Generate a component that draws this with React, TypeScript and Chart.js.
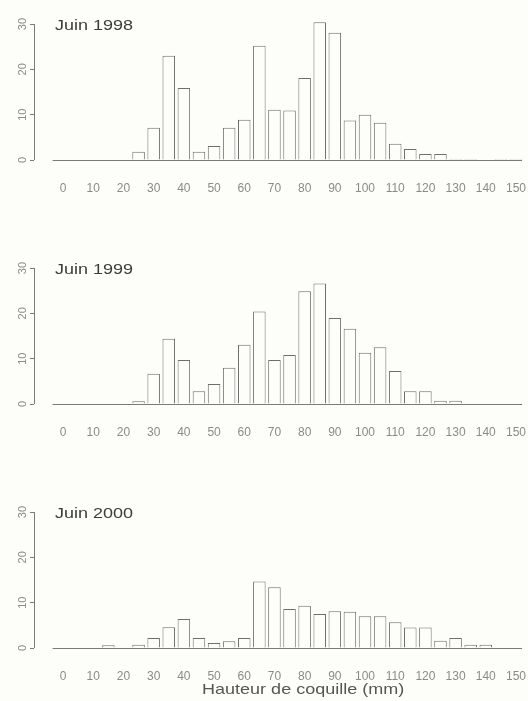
import React, { useEffect, useRef } from "react";
import { Chart, registerables } from "chart.js";

Chart.register(...registerables);

// ---- Data ----
const SIZE_CLASSES = [0, 5, 10, 15, 20, 25, 30, 35, 40, 45, 50, 55, 60, 65, 70, 75, 80, 85, 90, 95, 100, 105, 110, 115, 120, 125, 130, 135, 140, 145, 150];
const X_TICKS = [0, 10, 20, 30, 40, 50, 60, 70, 80, 90, 100, 110, 120, 130, 140, 150];
const Y_TICKS = [0, 10, 20, 30];

const JUIN_1998 = [0, 0, 0, 0, 0, 1.8, 7.1, 23.0, 15.9, 1.8, 3.1, 7.1, 8.9, 25.2, 11.1, 10.9, 18.1, 30.4, 28.1, 8.7, 10.0, 8.2, 3.6, 2.4, 1.3, 1.3, 0.2, 0.2, 0, 0.2, 0.2];
const JUIN_1999 = [0, 0, 0, 0, 0, 0.6, 6.7, 14.4, 9.7, 2.8, 4.4, 8.0, 13.1, 20.4, 9.7, 10.8, 24.9, 26.6, 19.0, 16.6, 11.3, 12.5, 7.3, 2.8, 2.8, 0.7, 0.7, 0, 0, 0, 0];
const JUIN_2000 = [0, 0, 0, 0.6, 0, 0.7, 2.2, 4.6, 6.4, 2.2, 1.1, 1.5, 2.2, 14.7, 13.4, 8.6, 9.3, 7.5, 8.1, 8.0, 7.0, 7.0, 5.7, 4.5, 4.5, 1.6, 2.2, 0.7, 0.7, 0, 0];

const PANEL_TITLES = ["Juin 1998", "Juin 1999", "Juin 2000"];
const X_TITLE = "Hauteur de coquille (mm)";

const SERIES = [JUIN_1998, JUIN_1999, JUIN_2000];

// ---- Styling ----
const BG = "#fdfdfa";
const FONT = "'Liberation Sans', Arial, sans-serif";
const TEXT_DARK = "#3c3c3c";
const TEXT_LIGHT = "#8a8a8a";
const LINE = "#7a7a7a";

const CANVAS_W = 528;
const CANVAS_H = 213;
const PANEL_TOPS = [0, 244, 488];

const decorPlugin = {
  id: "panelDecor",
  afterDatasetsDraw(chart: any) {
    const { ctx } = chart;
    const xs = chart.scales.x;
    const ys = chart.scales.y;
    const y0 = Math.round(ys.getPixelForValue(0)) + 0.5;
    ctx.save();
    ctx.strokeStyle = LINE;
    ctx.lineWidth = 1;
    // baseline under the bars
    ctx.beginPath();
    ctx.moveTo(xs.getPixelForValue(-3.5), y0);
    ctx.lineTo(xs.getPixelForValue(152), y0);
    ctx.stroke();
    // y axis line, from first to last tick (R style)
    const ax = Math.round(chart.chartArea.left) + 0.5;
    ctx.beginPath();
    ctx.moveTo(ax, ys.getPixelForValue(Y_TICKS[0]));
    ctx.lineTo(ax, ys.getPixelForValue(Y_TICKS[Y_TICKS.length - 1]));
    ctx.stroke();
    ctx.restore();
  },
  afterDraw(chart: any, _args: any, opts: any) {
    const { ctx } = chart;
    const xs = chart.scales.x;
    const ys = chart.scales.y;
    const drawStretched = (text: string, x: number, y: number, align: CanvasTextAlign, color: string) => {
      ctx.save();
      ctx.translate(x, y);
      ctx.scale(1.2, 1);
      ctx.font = `15px ${FONT}`;
      ctx.fillStyle = color;
      ctx.textAlign = align;
      ctx.textBaseline = "middle";
      ctx.fillText(text, 0, 0);
      ctx.restore();
    };
    if (opts.title) {
      drawStretched(opts.title, xs.getPixelForValue(-2.7), ys.getPixelForValue(30) + 2, "left", TEXT_DARK);
    }
    if (opts.xTitle) {
      drawStretched(opts.xTitle, xs.getPixelForValue(79.5), chart.chartArea.bottom + 42, "center", "#555555");
    }
  },
};

function Panel({ values, title, xTitle, top }: { values: number[]; title: string; xTitle?: string; top: number }) {
  const ref = useRef<HTMLCanvasElement>(null);
  useEffect(() => {
    if (!ref.current) return;
    const chart = new Chart(ref.current, {
      type: "bar",
      data: {
        datasets: [
          {
            data: SIZE_CLASSES.map((c, i) => ({ x: c, y: values[i] })),
            backgroundColor: BG,
            borderColor: "#6e6e6e",
            borderWidth: 1,
            barPercentage: 0.83,
            categoryPercentage: 1,
          } as any,
        ],
      },
      options: {
        animation: false,
        responsive: false,
        maintainAspectRatio: false,
        layout: { padding: { top: 19.5, right: 6, left: 0, bottom: 0 } },
        plugins: {
          legend: { display: false },
          tooltip: { enabled: false },
          panelDecor: { title, xTitle },
        } as any,
        scales: {
          x: {
            type: "linear",
            offset: false,
            min: -9.64,
            max: 152,
            grid: { display: false, drawTicks: false, offset: false },
            border: { display: false },
            ticks: {
              padding: 21,
              autoSkip: false,
              maxRotation: 0,
              minRotation: 0,
              color: TEXT_LIGHT,
              font: { family: FONT, size: 12 },
              callback: (v: any) => String(v),
            },
            afterBuildTicks: (s: any) => {
              s.ticks = X_TICKS.map((v) => ({ value: v }));
            },
            afterFit: (s: any) => {
              s.height = 53;
              s.paddingLeft = 0;
              s.paddingRight = 0;
            },
          },
          y: {
            min: 0,
            max: 31,
            grid: { drawOnChartArea: false, tickLength: 4, color: LINE },
            border: { display: false },
            ticks: {
              minRotation: 90,
              maxRotation: 90,
              crossAlign: "center",
              padding: 1,
              color: TEXT_LIGHT,
              font: { family: FONT, size: 11 },
            },
            afterBuildTicks: (s: any) => {
              s.ticks = Y_TICKS.map((v) => ({ value: v }));
            },
            afterFit: (s: any) => {
              s.width = 34;
              s.paddingTop = 0;
              s.paddingBottom = 0;
            },
          },
        } as any,
      },
      plugins: [decorPlugin as any],
    });
    return () => chart.destroy();
  }, [values, title, xTitle]);
  return (
    <canvas
      ref={ref}
      width={CANVAS_W}
      height={CANVAS_H}
      style={{ position: "absolute", left: 0, top, width: CANVAS_W, height: CANVAS_H, display: "block" }}
    />
  );
}

export default function App() {
  return (
    <div style={{ position: "fixed", left: 0, top: 0, width: 528, height: 701, background: BG, overflow: "hidden" }}>
      {SERIES.map((vals, i) => (
        <Panel
          key={PANEL_TITLES[i]}
          values={vals}
          title={PANEL_TITLES[i]}
          xTitle={i === SERIES.length - 1 ? X_TITLE : undefined}
          top={PANEL_TOPS[i]}
        />
      ))}
    </div>
  );
}
